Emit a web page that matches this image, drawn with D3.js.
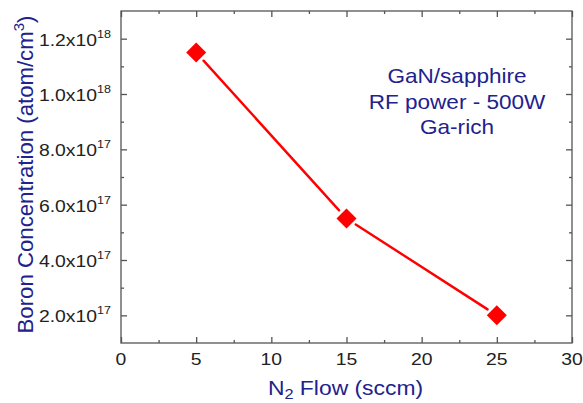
<!DOCTYPE html>
<html>
<head>
<meta charset="utf-8">
<script src="https://cdn.jsdelivr.net/npm/d3@7"></script>
<style>
  html, body { margin: 0; padding: 0; background: #fff; }
  svg { display: block; font-family: "Liberation Sans", Arial, sans-serif; }
</style>
</head>
<body>
<svg id="chart" width="583" height="403"></svg>
<script>
// N2 flow (sccm) and measured boron concentration (atom/cm^3)
const flow = [5, 15, 25];
const boron = [1.15e18, 5.5e17, 2.0e17];

// Axis ticks
const xTicks = [0, 5, 10, 15, 20, 25, 30];
const xMinor = [2.5, 7.5, 12.5, 17.5, 22.5, 27.5];
const yTicks = [2e17, 4e17, 6e17, 8e17, 1.0e18, 1.2e18];
const yMinor = [3e17, 5e17, 7e17, 9e17, 1.1e18];
const yMantissa = ["2.0", "4.0", "6.0", "8.0", "1.0", "1.2"];
const yExponent = ["17", "17", "17", "17", "18", "18"];

const noteLines = ["GaN/sapphire", "RF power - 500W", "Ga-rich"];

const svg = d3.select("#chart");
const m = { left: 121, top: 11, right: 572, bottom: 343 };

const x = d3.scaleLinear().domain([0, 30]).range([m.left, m.right]);
const y = d3.scaleLinear().domain([1e17, 1.3e18]).range([m.bottom, m.top]);

const axisColor = "#555";
const tickText = "#222";
const navy = "#22228c";
const sx = 1.14; // glyphs are set slightly wide

// Frame
svg.append("rect")
  .attr("x", m.left).attr("y", m.top)
  .attr("width", m.right - m.left).attr("height", m.bottom - m.top)
  .attr("fill", "none").attr("stroke", axisColor).attr("stroke-width", 1.3);

function styleAxis(g) {
  g.select(".domain").remove();
  g.selectAll(".tick line").attr("stroke", axisColor).attr("stroke-width", 1.3);
}

// Inward ticks on all four sides
const sides = [
  [d3.axisBottom, x, `translate(0,${m.bottom})`, xTicks, xMinor],
  [d3.axisTop, x, `translate(0,${m.top})`, xTicks, xMinor],
  [d3.axisLeft, y, `translate(${m.left},0)`, yTicks, yMinor],
  [d3.axisRight, y, `translate(${m.right},0)`, yTicks, yMinor]
];
sides.forEach(([axisFn, sc, tr, major, minor]) => {
  svg.append("g").attr("transform", tr)
    .call(axisFn(sc).tickValues(major).tickSizeInner(-6).tickSizeOuter(0).tickFormat(""))
    .call(styleAxis);
  svg.append("g").attr("transform", tr)
    .call(axisFn(sc).tickValues(minor).tickSizeInner(-3).tickSizeOuter(0).tickFormat(""))
    .call(styleAxis);
});

// X tick labels
svg.append("g").selectAll("text").data(xTicks).join("text")
  .attr("transform", d => `translate(${x(d)},${m.bottom + 22}) scale(${sx},1)`)
  .attr("text-anchor", "middle")
  .attr("fill", tickText)
  .attr("font-size", 17)
  .text(d => d);

// Y tick labels in scientific notation
const yl = svg.append("g").selectAll("text").data(yTicks).join("text")
  .attr("transform", d => `translate(${m.left - 10},${y(d) + 7}) scale(${sx},1)`)
  .attr("text-anchor", "end")
  .attr("fill", tickText)
  .attr("font-size", 17);
yl.append("tspan").text((d, i) => yMantissa[i] + "x10");
yl.append("tspan").attr("font-size", 11).attr("dy", -8).text((d, i) => yExponent[i]);

// Connecting line, with a small gap left around each marker
const pts = flow.map((f, i) => [x(f), y(boron[i])]);
const gap = 11;
const segs = d3.pairs(pts).map(([a, b]) => {
  const dx = b[0] - a[0], dy = b[1] - a[1], L = Math.hypot(dx, dy);
  const ux = dx / L, uy = dy / L;
  return [[a[0] + ux * gap, a[1] + uy * gap], [b[0] - ux * gap, b[1] - uy * gap]];
});
svg.append("g").selectAll("line").data(segs).join("line")
  .attr("x1", d => d[0][0]).attr("y1", d => d[0][1])
  .attr("x2", d => d[1][0]).attr("y2", d => d[1][1])
  .attr("stroke", "#ff0000").attr("stroke-width", 2.4).attr("stroke-linecap", "round");

// Diamond markers
const diamond = d3.symbol().type(d3.symbolSquare).size(200);
svg.append("g").selectAll("path").data(flow).join("path")
  .attr("d", diamond)
  .attr("transform", (d, i) => `translate(${x(d)},${y(boron[i])}) rotate(45)`)
  .attr("fill", "#ff0000");

// Axis titles
const xt = svg.append("text")
  .attr("transform", `translate(${(m.left + m.right) / 2 - 1},395) scale(1.09,1)`)
  .attr("text-anchor", "middle").attr("fill", navy).attr("font-size", 21);
xt.append("tspan").text("N");
xt.append("tspan").attr("font-size", 15).attr("dy", 4).text("2");
xt.append("tspan").attr("dy", -4).text(" Flow (sccm)");

const ytl = svg.append("text")
  .attr("transform", `translate(33,174.5) rotate(-90)`)
  .attr("text-anchor", "middle").attr("fill", navy).attr("font-size", 22.2);
ytl.append("tspan").text("Boron Concentration (atom/cm");
ytl.append("tspan").attr("font-size", 15).attr("dy", -9).text("3");
ytl.append("tspan").attr("dy", 9).text(")");

// Sample annotation
const noteY = [83, 109, 134];
svg.append("g").selectAll("text").data(noteLines).join("text")
  .attr("transform", (d, i) => `translate(457,${noteY[i]}) scale(1.1,1)`)
  .attr("text-anchor", "middle").attr("fill", navy).attr("font-size", 20.5)
  .text(d => d);
</script>
</body>
</html>
